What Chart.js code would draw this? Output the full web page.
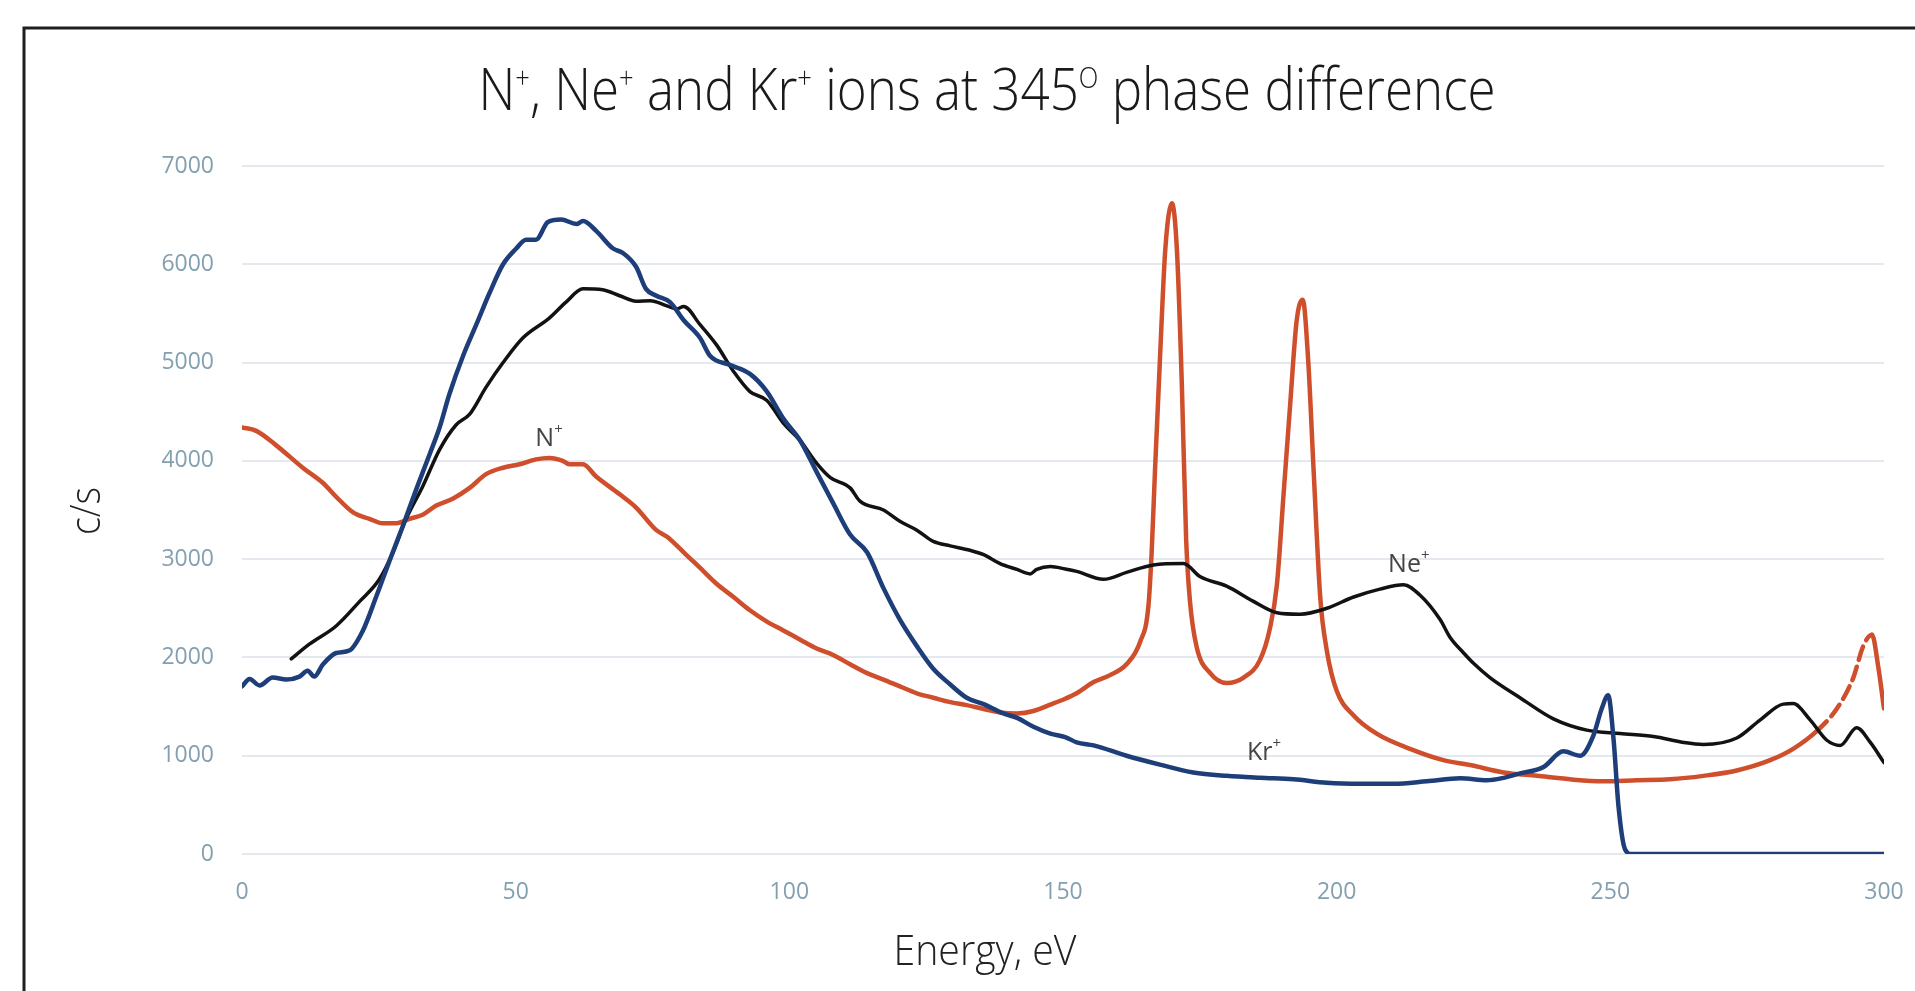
<!DOCTYPE html>
<html>
<head>
<meta charset="utf-8">
<title>N+, Ne+ and Kr+ ions at 345° phase difference</title>
<script src="https://cdn.jsdelivr.net/npm/chart.js@4.4.1/dist/chart.umd.min.js"></script>
<style>
  html, body { margin: 0; padding: 0; background: #fff; overflow: hidden; }
  canvas { display: block; }
</style>
</head>
<body>
<canvas id="chart" width="1915" height="991"></canvas>
<script>
// values (energy in eV, counts in c/s)
const energyTicks = [0, 50, 100, 150, 200, 250, 300]
const countTicks = [0, 1000, 2000, 3000, 4000, 5000, 6000, 7000]

const nEnergy = [0, 2.6, 6.2, 11.1, 14.8, 17.2, 20.3, 23.3, 25.7, 28.2, 30.6, 33.1, 35.5, 38.5, 41.6, 44.6, 47.7, 50.7, 53.7, 56.2,
  58.6, 59.8, 62.3, 64.7, 69.0, 72.0, 75.7, 77.6, 80.7, 83.7, 86.7, 89.8, 92.8, 95.9, 98.9, 102.0, 105.0, 108.0, 111.1, 114.2,
  117.2, 120.2, 123.3, 126.3, 129.4, 132.4, 135.5, 138.5, 141.6, 144.6, 147.7, 150.4, 152.5, 155.6, 158.6, 161.6, 164.1, 165.6, 166.2, 166.8,
  167.7, 168.7, 169.9, 170.8, 171.7, 172.5, 173.2, 174.4, 176.9, 179.9, 183.0, 186.0, 187.8, 189.1, 190.3, 191.5, 192.7, 193.8, 194.8, 195.8,
  197.0, 198.2, 200.0, 203.1, 207.3, 213.4, 219.5, 224.4, 230.5, 236.6, 242.6, 248.7, 254.8, 260.9, 267.0, 273.1, 279.2, 283.4, 287.7, 291.4,
  294.4, 296.2, 297.8, 299.0, 300.0]
const nCounts = [4340, 4305, 4160, 3930, 3775, 3635, 3475, 3410, 3365, 3365, 3410, 3455, 3545, 3615, 3725, 3865, 3930, 3965, 4015, 4030,
  4000, 3965, 3965, 3840, 3660, 3525, 3295, 3230, 3070, 2910, 2750, 2615, 2480, 2365, 2275, 2180, 2090, 2025, 1930, 1840,
  1775, 1705, 1635, 1590, 1545, 1515, 1475, 1440, 1430, 1455, 1520, 1580, 1636, 1750, 1820, 1930, 2160, 2520, 3070, 3890,
  5020, 6160, 6620, 6160, 4800, 3200, 2570, 2110, 1840, 1740, 1795, 1975, 2295, 2750, 3660, 4570, 5430, 5640, 5020, 3890,
  2610, 2070, 1660, 1410, 1225, 1070, 955, 905, 830, 795, 760, 740, 750, 760, 795, 850, 955, 1070, 1250, 1480,
  1795, 2115, 2230, 1885, 1480]

const neEnergy = [9.0, 12.3, 17.2, 21.5, 25.1, 27.6, 30.0, 33.1, 36.1, 39.1, 41.6, 44.6, 47.7, 51.3, 56.2, 59.2, 62.3, 65.9, 69.0, 72.0,
  74.6, 77.5, 79.4, 80.7, 83.7, 86.7, 89.8, 92.8, 95.9, 98.9, 102.0, 105.0, 107.5, 111.1, 112.9, 117.2, 120.2, 123.3, 126.3, 129.4,
  133.0, 135.5, 138.5, 141.6, 144.0, 145.2, 147.7, 150.4, 152.5, 157.4, 161.6, 166.5, 172.0, 175.1, 179.9, 184.8, 189.1, 193.3, 198.2, 203.1,
  207.9, 212.2, 215.2, 218.9, 220.7, 223.2, 225.0, 228.0, 233.5, 239.6, 245.7, 251.8, 257.9, 263.4, 267.0, 273.1, 277.4, 281.6, 283.4, 286.5,
  289.5, 292.0, 295.0, 297.5, 300.0]
const neCounts = [1985, 2135, 2320, 2570, 2795, 3070, 3410, 3750, 4115, 4365, 4475, 4750, 5000, 5250, 5455, 5615, 5750, 5740, 5680, 5625,
  5630, 5580, 5545, 5570, 5385, 5180, 4910, 4705, 4615, 4385, 4205, 3975, 3830, 3725, 3590, 3500, 3385, 3295, 3180, 3135,
  3090, 3045, 2955, 2895, 2850, 2895, 2925, 2900, 2875, 2795, 2865, 2940, 2955, 2820, 2725, 2570, 2455, 2440, 2500, 2615,
  2695, 2740, 2635, 2385, 2205, 2045, 1940, 1795, 1590, 1375, 1260, 1225, 1195, 1135, 1115, 1180, 1365, 1525, 1530, 1365,
  1160, 1105, 1285, 1135, 930]

const krEnergy = [0.0, 1.4, 3.2, 5.6, 8.1, 10.5, 12.0, 13.2, 14.8, 17.2, 19.6, 22.1, 24.5, 26.9, 29.4, 31.8, 34.3, 36.1, 37.9, 40.4,
  42.8, 45.2, 47.7, 50.1, 51.9, 53.7, 55.9, 58.3, 61.1, 62.3, 64.7, 67.8, 69.6, 72.0, 73.8, 75.7, 78.2, 80.7, 83.7, 85.5,
  89.2, 92.8, 95.9, 98.9, 102.0, 105.0, 108.0, 111.1, 114.2, 117.2, 120.2, 123.3, 126.3, 129.4, 132.4, 135.5, 139.1, 141.6, 144.6, 147.7,
  150.4, 152.5, 155.6, 161.6, 167.7, 173.8, 179.9, 186.0, 192.1, 198.2, 204.3, 210.4, 216.5, 222.6, 227.4, 230.5, 233.5, 237.8, 241.4, 244.5,
  246.9, 248.4, 249.6, 250.6, 251.5, 252.7, 253.9, 300.0]
const krCounts = [1705, 1780, 1715, 1795, 1775, 1805, 1865, 1805, 1930, 2045, 2070, 2275, 2615, 2975, 3340, 3705, 4070, 4340, 4680, 5070,
  5385, 5705, 6000, 6160, 6250, 6250, 6430, 6455, 6410, 6440, 6340, 6160, 6115, 5975, 5750, 5680, 5615, 5430, 5250, 5070,
  4975, 4885, 4705, 4430, 4205, 3885, 3570, 3250, 3070, 2705, 2385, 2115, 1885, 1725, 1590, 1525, 1430, 1385, 1295, 1225,
  1190, 1136, 1105, 1000, 910, 830, 795, 775, 760, 725, 715, 715, 740, 770, 750, 775, 820, 885, 1045, 1000,
  1205, 1475, 1615, 1160, 480, 45, 0, 0]

// in-plot ion labels, anchored in data units (left edge / baseline)
const ionLabels = [
  { name: "N", energy: 53.6, counts: 4150 },
  { name: "Ne", energy: 209.4, counts: 2870 },
  { name: "Kr", energy: 183.6, counts: 955 },
]

const titleParts = [["N"], ["+", true], [", Ne"], ["+", true], [" and Kr"], ["+", true], [" ions at 345"], ["O", true], [" phase difference"]]

const FONT = "'Open Sans', 'Noto Sans', sans-serif"
const TICK_COLOR = "#83a0b0"

const toPoints = (xs, ys) => xs.map((x, i) => ({ x, y: ys[i] }))

// draws text with small raised parts, optionally squeezed to a given width
function drawRich(ctx, parts, x, y, opts) {
  const { size, weight = 300, color, fit, align = "center", supScale = 0.5, rise = 0.38 } = opts
  const mainFont = `${weight} ${size}px ${FONT}`
  const supFont = `${weight} ${Math.round(size * supScale)}px ${FONT}`
  ctx.save()
  ctx.fillStyle = color
  ctx.textAlign = "left"
  ctx.textBaseline = "alphabetic"
  let total = 0
  const widths = parts.map(([t, sup]) => {
    ctx.font = sup ? supFont : mainFont
    const w = ctx.measureText(t).width
    total += w
    return w
  })
  const squeeze = fit ? fit / total : 1
  ctx.translate(x, y)
  ctx.scale(squeeze, 1)
  let cx = align === "center" ? -total / 2 : 0
  parts.forEach(([t, sup], i) => {
    ctx.font = sup ? supFont : mainFont
    ctx.fillText(t, cx, sup ? -size * rise : 0)
    cx += widths[i]
  })
  ctx.restore()
}

const decor = {
  id: "decor",
  beforeDraw(chart) {
    const { ctx, width, height } = chart
    ctx.save()
    ctx.fillStyle = "#fff"
    ctx.fillRect(0, 0, width, height)
    ctx.strokeStyle = "#1f1f1f"
    ctx.lineWidth = 3
    ctx.beginPath()
    ctx.moveTo(24, height)
    ctx.lineTo(24, 28)
    ctx.lineTo(width, 28)
    ctx.stroke()
    ctx.restore()
  },
  afterDraw(chart) {
    const { ctx } = chart
    const { x, y } = chart.scales

    drawRich(ctx, titleParts, 987, 110, { size: 58, fit: 1017, color: "#1a1a1a" })
    drawRich(ctx, [["Energy, eV"]], 985, 965, { size: 42, fit: 183, color: "#222" })

    ctx.save()
    ctx.translate(100, 511)
    ctx.rotate(-Math.PI / 2)
    drawRich(ctx, [["c/s"]], 0, 0, { size: 43, fit: 48, color: "#222" })
    ctx.restore()

    ionLabels.forEach((l) => {
      drawRich(ctx, [[l.name], ["+", true]], x.getPixelForValue(l.energy), y.getPixelForValue(l.counts),
        { size: 25, weight: 400, color: "#454545", align: "left", supScale: 0.6, rise: 0.48 })
    })
  },
}

const tickFont = { family: FONT, size: 23 }
const plainNumber = (v) => String(v)
// keep edge tick labels from pushing the plot area inwards
const noEdgePadding = (s) => {
  s.paddingLeft = 0
  s.paddingRight = 0
  s.paddingTop = 0
  s.paddingBottom = 0
}

new Chart(document.getElementById("chart"), {
  type: "line",
  data: {
    datasets: [
      {
        label: "Kr+",
        data: toPoints(krEnergy, krCounts),
        borderColor: "#1d3e78",
        borderWidth: 4.5,
        order: 0,
      },
      {
        label: "Ne+",
        data: toPoints(neEnergy, neCounts),
        borderColor: "#121212",
        borderWidth: 3.5,
        order: 1,
      },
      {
        label: "N+",
        data: toPoints(nEnergy, nCounts),
        borderColor: "#cf4f2d",
        borderWidth: 4.5,
        order: 2,
        segment: {
          borderDash: (s) => (s.p0.parsed.x >= 287 && s.p1.parsed.x <= 298 ? [14, 7] : undefined),
        },
      },
    ],
  },
  options: {
    responsive: false,
    animation: false,
    events: [],
    layout: { padding: { top: 166, right: 31, left: 0, bottom: 0 } },
    plugins: {
      legend: { display: false },
      tooltip: { enabled: false },
      title: { display: false },
    },
    elements: {
      point: { radius: 0 },
      line: { borderJoinStyle: "round", borderCapStyle: "round", cubicInterpolationMode: "monotone", fill: false },
    },
    scales: {
      x: {
        type: "linear",
        min: 0,
        max: 300,
        afterBuildTicks: (s) => { s.ticks = energyTicks.map((value) => ({ value })) },
        afterFit: (s) => { s.height = 137; noEdgePadding(s) },
        grid: { display: false, drawTicks: false },
        border: { display: false },
        ticks: { color: TICK_COLOR, font: tickFont, padding: 25, maxRotation: 0, callback: plainNumber },
      },
      y: {
        min: 0,
        max: 7000,
        afterBuildTicks: (s) => { s.ticks = countTicks.map((value) => ({ value })) },
        afterFit: (s) => { s.width = 242; noEdgePadding(s) },
        grid: { color: "#e3e9ee", lineWidth: 2, drawTicks: false },
        border: { display: false },
        ticks: { color: TICK_COLOR, font: tickFont, padding: 28, callback: plainNumber },
      },
    },
  },
  plugins: [decor],
})
</script>
</body>
</html>
